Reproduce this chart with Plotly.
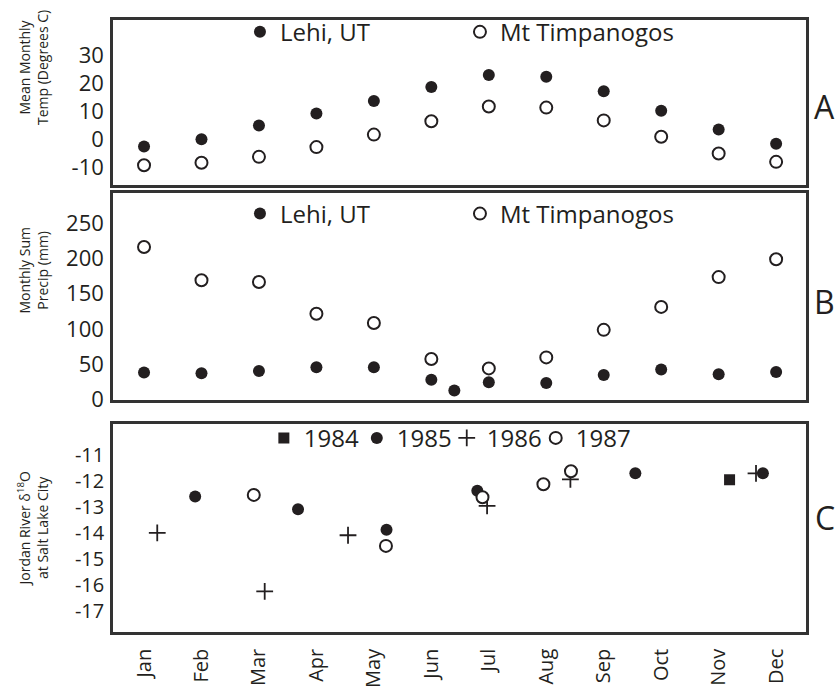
import plotly.graph_objects as go

# ---------------- data ----------------
months = ["Jan", "Feb", "Mar", "Apr", "May", "Jun", "Jul", "Aug", "Sep", "Oct", "Nov", "Dec"]
month_pos = [1, 2, 3, 4, 5, 6, 7, 8, 9, 10, 11, 12]

# Panel A: mean monthly temperature (deg C)
temp_lehi = [-2.7, -0.1, 4.9, 9.2, 13.7, 18.7, 23.0, 22.4, 17.2, 10.2, 3.4, -1.7]
temp_timp = [-9.4, -8.5, -6.4, -2.9, 1.6, 6.4, 11.7, 11.3, 6.7, 0.8, -5.2, -8.2]
temp_ticks = [-10, 0, 10, 20, 30]
temp_ticktext = ["-10", "0", "10", "20", "30"]

# Panel B: monthly sum precipitation (mm)
precip_lehi_x = [1, 2, 3, 4, 5, 6, 6.4, 7, 8, 9, 10, 11, 12]
precip_lehi = [37.7, 36.7, 39.9, 45.4, 45.4, 27.4, 12.2, 23.8, 22.9, 34.3, 42.2, 35.3, 38.5]
precip_timp = [216.8, 169.3, 166.9, 121.6, 108.3, 57.1, 43.6, 59.3, 98.6, 131.3, 173.8, 199.2]
precip_ticks = [0, 50, 100, 150, 200, 250]
precip_ticktext = ["0", "50", "100", "150", "200", "250"]

# Panel C: Jordan River d18O at Salt Lake City (sample dates as decimal month)
o18_1984_x = [11.19]
o18_1984 = [-11.96]
o18_1985_x = [1.89, 3.68, 5.22, 6.80, 9.55, 11.77]
o18_1985 = [-12.60, -13.09, -13.88, -12.38, -11.71, -11.71]
o18_1986_x = [1.23, 3.10, 4.55, 6.97, 8.42, 11.65]
o18_1986 = [-14.00, -16.25, -14.09, -12.96, -11.94, -11.71]
o18_1987_x = [2.91, 5.21, 6.89, 7.95, 8.43]
o18_1987 = [-12.54, -14.50, -12.63, -12.13, -11.63]
o18_ticks = [-17, -16, -15, -14, -13, -12, -11]
o18_ticktext = ["-17", "-16", "-15", "-14", "-13", "-12", "-11"]

# ---------------- styling ----------------
FONT = "Open Sans"
INK = "#231f20"
BOX = "#333333"
filled = dict(symbol="circle", size=12, color=INK)
hollow = dict(symbol="circle-open", size=12, color=INK, line=dict(width=2, color=INK))

fig = go.Figure()

# Panel A
fig.add_trace(go.Scatter(x=month_pos, y=temp_lehi, mode="markers", name="Lehi, UT",
                         marker=filled, xaxis="x", yaxis="y", legend="legend"))
fig.add_trace(go.Scatter(x=month_pos, y=temp_timp, mode="markers", name="Mt Timpanogos",
                         marker=hollow, xaxis="x", yaxis="y", legend="legend"))
# Panel B
fig.add_trace(go.Scatter(x=precip_lehi_x, y=precip_lehi, mode="markers", name="Lehi, UT",
                         marker=filled, xaxis="x2", yaxis="y2", legend="legend2"))
fig.add_trace(go.Scatter(x=month_pos, y=precip_timp, mode="markers", name="Mt Timpanogos",
                         marker=hollow, xaxis="x2", yaxis="y2", legend="legend2"))
# Panel C (one legend per year so each entry can be placed like the reference)
fig.add_trace(go.Scatter(x=o18_1984_x, y=o18_1984, mode="markers", name="1984",
                         marker=dict(symbol="square", size=11, color=INK),
                         xaxis="x3", yaxis="y3", legend="legend3"))
fig.add_trace(go.Scatter(x=o18_1985_x, y=o18_1985, mode="markers", name="1985",
                         marker=filled, xaxis="x3", yaxis="y3", legend="legend4"))
fig.add_trace(go.Scatter(x=o18_1986_x, y=o18_1986, mode="markers", name="1986",
                         marker=dict(symbol="cross-thin-open", size=12, color=INK,
                                     line=dict(width=1.8, color=INK)),
                         xaxis="x3", yaxis="y3", legend="legend5"))
fig.add_trace(go.Scatter(x=o18_1987_x, y=o18_1987, mode="markers", name="1987",
                         marker=dict(symbol="circle", size=12, color="white",
                                     line=dict(width=2, color=INK)),
                         xaxis="x3", yaxis="y3", legend="legend6"))

xr = [0.46, 12.52]
common_x = dict(range=xr, showline=True, mirror=True, linewidth=2.5, linecolor=BOX,
                showgrid=False, zeroline=False, ticks="", tickvals=month_pos, ticktext=months)
common_y = dict(showline=True, mirror=True, linewidth=2.5, linecolor=BOX, showgrid=False,
                zeroline=False, ticks="", ticklabelstandoff=2)

legend_common = dict(orientation="h", bgcolor="rgba(0,0,0,0)", borderwidth=0,
                     font=dict(size=24, color=INK, family=FONT), xanchor="left",
                     yanchor="middle", itemclick=False, itemdoubleclick=False)

c_leg_y = 0.3165
fig.update_layout(
    width=837, height=698,
    margin=dict(l=112.5, r=31, t=10, b=57),
    paper_bgcolor="white", plot_bgcolor="white",
    font=dict(family=FONT, color=INK),
    showlegend=True,
    xaxis=dict(**common_x, anchor="y", showticklabels=False),
    xaxis2=dict(**common_x, anchor="y2", showticklabels=False),
    xaxis3=dict(**common_x, anchor="y3", showticklabels=True, tickangle=-90,
                tickfont=dict(size=20, color=INK, family=FONT), ticklabelstandoff=6),
    yaxis=dict(**common_y, domain=[0.7298, 1.0], range=[-16.65, 42.8],
               tickvals=temp_ticks, ticktext=temp_ticktext, anchor="x",
               tickfont=dict(size=22, color=INK, family=FONT)),
    yaxis2=dict(**common_y, domain=[0.3788, 0.7174], range=[-1.7, 293.8],
                tickvals=precip_ticks, ticktext=precip_ticktext, anchor="x2",
                tickfont=dict(size=22, color=INK, family=FONT)),
    yaxis3=dict(**common_y, domain=[0.0, 0.3396], range=[-17.81, -9.82],
                tickvals=o18_ticks, ticktext=o18_ticktext, anchor="x3",
                tickfont=dict(size=20, color=INK, family=FONT)),
    legend=dict(**legend_common, x=0.1832, y=0.980, entrywidthmode="pixels", entrywidth=175),
    legend2=dict(**legend_common, x=0.1832, y=0.683, entrywidthmode="pixels", entrywidth=175),
    legend3=dict(**legend_common, x=0.2177, y=c_leg_y),
    legend4=dict(**legend_common, x=0.3518, y=c_leg_y),
    legend5=dict(**legend_common, x=0.4816, y=c_leg_y),
    legend6=dict(**legend_common, x=0.6100, y=c_leg_y),
)

# y-axis titles (two-line, rotated)
ytitles = [
    ("Mean Monthly<br>Temp (Degrees C)", 0.922),
    ("Monthly Sum<br>Precip (mm)", 0.591),
    ("Jordan River δ<sup>18</sup>O<br>at Salt Lake City", 0.168),
]
for txt, yc in ytitles:
    fig.add_annotation(text=txt, xref="paper", yref="paper", x=-0.115, y=yc,
                       textangle=-90, showarrow=False, xanchor="center", yanchor="middle",
                       font=dict(size=14, color=INK, family=FONT))

# panel letters
for letter, yc in [("A", 0.859), ("B", 0.540), ("C", 0.187)]:
    fig.add_annotation(text=letter, xref="paper", yref="paper", x=1.0274, y=yc,
                       showarrow=False, xanchor="center", yanchor="middle",
                       font=dict(size=32, color=INK, family=FONT))

fig.write_html("out.html", config={"displayModeBar": False},
               post_script="document.body.style.margin='0';document.body.style.overflow='hidden';")
